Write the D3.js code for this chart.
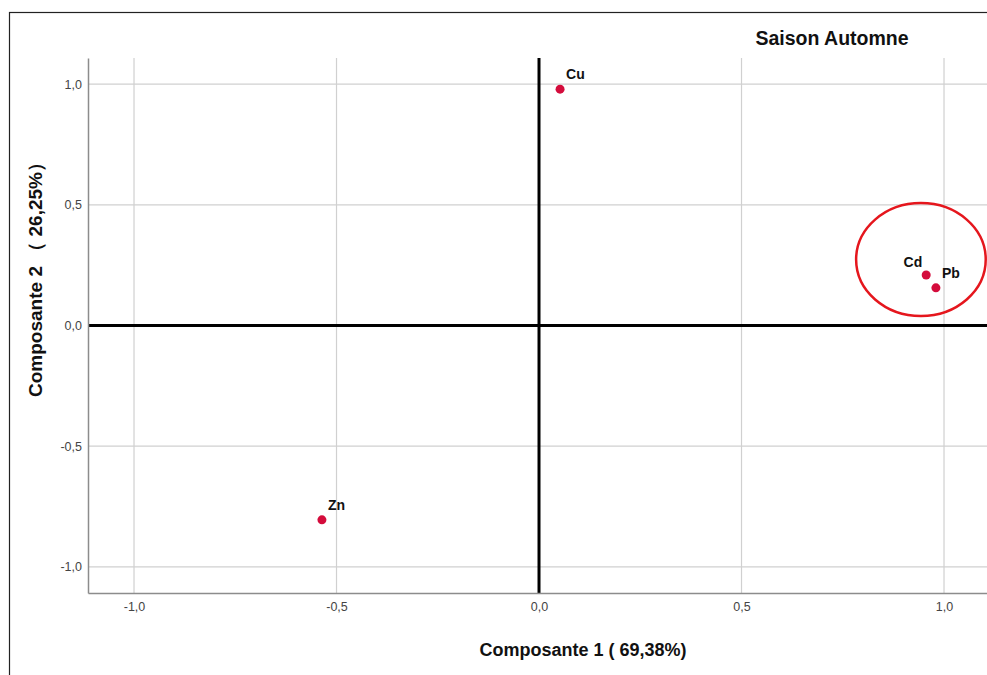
<!DOCTYPE html>
<html>
<head>
<meta charset="utf-8">
<script src="https://cdn.jsdelivr.net/npm/d3@7"></script>
<style>
  html, body { margin: 0; padding: 0; background: #fff; }
  svg { display: block; }
</style>
</head>
<body>
<svg id="chart" width="987" height="675"></svg>
<script>
// Component loadings per metal (PCA, autumn season)
const elements = ["Cd", "Pb", "Cu", "Zn"];
const comp1 = [0.956, 0.980, 0.052, -0.536];
const comp2 = [0.209, 0.156, 0.979, -0.805];
const labelAnchor = ["end", "start", "start", "start"];

const tickValues = [-1.0, -0.5, 0.0, 0.5, 1.0];
const tickLabels = ["-1,0", "-0,5", "0,0", "0,5", "1,0"];

const chartTitle = "Saison Automne";
const xTitle = "Composante 1 ( 69,38%)";
const yTitle = "Composante 2 （ 26,25%）";

// Highlighted group (Cd, Pb) outlined with an ellipse, in loading units
const highlight = { cx: 0.943, cy: 0.273, rx: 0.160, ry: 0.234 };

const svg = d3.select("#chart");
const W = 987, H = 675;
const plot = { left: 88, top: 58, bottom: 593 };

const x = d3.scaleLinear().domain([-1.1136, 1.1136]).range([plot.left, plot.left + 2 * 1.1136 * 405]);
const y = d3.scaleLinear().domain([-1.108, 1.108]).range([plot.bottom, plot.top]);
const plotRight = x.range()[1];

// outer frame
svg.append("rect")
  .attr("x", 9.5).attr("y", 12.5)
  .attr("width", W + 20).attr("height", H + 20)
  .attr("fill", "none").attr("stroke", "#222").attr("stroke-width", 1.2);

// clip for plot contents
svg.append("defs").append("clipPath").attr("id", "plotClip")
  .append("rect")
  .attr("x", plot.left).attr("y", plot.top)
  .attr("width", plotRight - plot.left).attr("height", plot.bottom - plot.top);

const grid = svg.append("g").attr("clip-path", "url(#plotClip)");

// grid lines
grid.selectAll("line.gx").data(tickValues).join("line")
  .attr("class", "gx")
  .attr("x1", d => x(d)).attr("x2", d => x(d))
  .attr("y1", plot.top).attr("y2", plot.bottom)
  .attr("stroke", "#d0d0d0").attr("stroke-width", 1.2);
grid.selectAll("line.gy").data(tickValues).join("line")
  .attr("class", "gy")
  .attr("y1", d => y(d)).attr("y2", d => y(d))
  .attr("x1", plot.left).attr("x2", plotRight)
  .attr("stroke", "#d0d0d0").attr("stroke-width", 1.2);

// origin reference lines
grid.append("line")
  .attr("x1", x(0)).attr("x2", x(0))
  .attr("y1", plot.top).attr("y2", plot.bottom)
  .attr("stroke", "#000").attr("stroke-width", 3);
grid.append("line")
  .attr("y1", y(0)).attr("y2", y(0))
  .attr("x1", plot.left).attr("x2", plotRight)
  .attr("stroke", "#000").attr("stroke-width", 3);

// axes (left and bottom)
const fmt = d => tickLabels[tickValues.indexOf(d)];
const xAxis = d3.axisBottom(x).tickValues(tickValues).tickFormat(fmt).tickSize(0).tickPadding(9);
const yAxis = d3.axisLeft(y).tickValues(tickValues).tickFormat(fmt).tickSize(0).tickPadding(6);

const gx = svg.append("g").attr("transform", `translate(0,${plot.bottom})`).call(xAxis);
const gy = svg.append("g").attr("transform", `translate(${plot.left},0)`).call(yAxis);
[gx, gy].forEach(g => {
  g.select(".domain").attr("stroke", "#8c8c8c").attr("stroke-width", 1.5);
  g.selectAll("text")
    .attr("font-family", "Liberation Sans, Arial, sans-serif")
    .attr("font-size", 12.5)
    .attr("fill", "#444");
});

// points
const pts = elements.map((e, i) => ({ name: e, c1: comp1[i], c2: comp2[i], anchor: labelAnchor[i] }));
svg.append("g").selectAll("circle").data(pts).join("circle")
  .attr("cx", d => x(d.c1)).attr("cy", d => y(d.c2))
  .attr("r", 4.5)
  .attr("fill", "#d40c3c");

svg.append("g").selectAll("text").data(pts).join("text")
  .attr("x", d => x(d.c1) + (d.anchor === "end" ? -4 : 6))
  .attr("y", d => y(d.c2) - (d.anchor === "end" ? 8 : 10))
  .attr("text-anchor", d => d.anchor)
  .attr("font-family", "Liberation Sans, Arial, sans-serif")
  .attr("font-weight", "bold")
  .attr("font-size", 14)
  .attr("fill", "#111")
  .text(d => d.name);

// highlight ellipse
svg.append("ellipse")
  .attr("cx", x(highlight.cx)).attr("cy", y(highlight.cy))
  .attr("rx", x(highlight.rx) - x(0)).attr("ry", y(0) - y(highlight.ry))
  .attr("fill", "none").attr("stroke", "#e5161d").attr("stroke-width", 2.5);

// titles
svg.append("text")
  .attr("x", 832).attr("y", 45)
  .attr("text-anchor", "middle")
  .attr("font-family", "Liberation Sans, Arial, sans-serif")
  .attr("font-weight", "bold")
  .attr("font-size", 19.5)
  .attr("fill", "#111")
  .text(chartTitle);

svg.append("text")
  .attr("x", 583).attr("y", 656)
  .attr("text-anchor", "middle")
  .attr("font-family", "Liberation Sans, Arial, sans-serif")
  .attr("font-weight", "bold")
  .attr("font-size", 18)
  .attr("fill", "#111")
  .text(xTitle);

svg.append("text")
  .attr("transform", "translate(42,275) rotate(-90)")
  .attr("text-anchor", "middle")
  .attr("font-family", "Liberation Sans, Arial, sans-serif")
  .attr("font-weight", "bold")
  .attr("font-size", 19)
  .attr("fill", "#111")
  .text(yTitle);
</script>
</body>
</html>
